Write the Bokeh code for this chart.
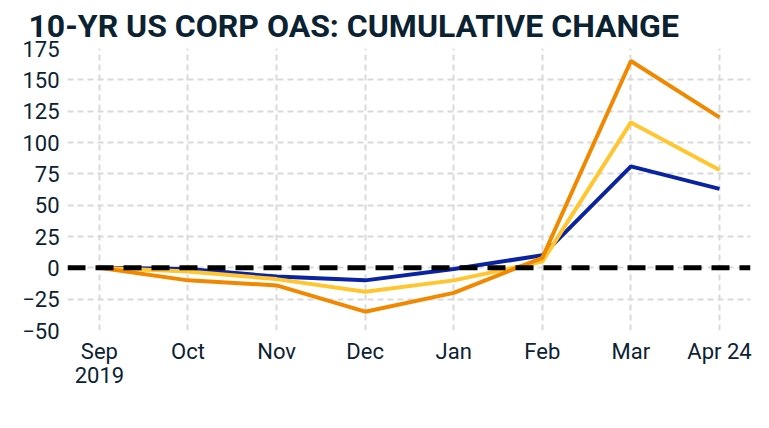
from bokeh.plotting import figure
from bokeh.models import Range1d, FixedTicker, Span, Legend, LegendItem, LinearAxis
from bokeh.embed import file_html
from bokeh.resources import INLINE

months = ["Sep", "Oct", "Nov", "Dec", "Jan", "Feb", "Mar", "Apr 24"]
years = {0: "2019"}
aa = [0, -1, -7, -10, -1, 10, 81, 63]
a_ = [0, -3, -9, -19, -10, 5, 116, 78]
bbb = [0, -10, -14, -35, -20, 8, 165, 120]
y_ticks = [-50, -25, 0, 25, 50, 75, 100, 125, 150, 175]

TEXT = "#0b2233"
FONT = "Roboto"

x = list(range(len(months)))

p = figure(frame_width=683, frame_height=282, output_backend="svg", toolbar_location=None,
           x_range=Range1d(-0.36, 7.35), y_range=Range1d(-50, 175),
           min_border_left=67, min_border_right=3, min_border_top=0, min_border_bottom=0)

p.title.text = "10-YR US CORP OAS: CUMULATIVE CHANGE"
p.title.text_font = FONT
p.title.text_font_size = "32px"
p.title.text_font_style = "bold"
p.title.text_color = TEXT
p.title.offset = -39
p.title.standoff = 8


def style_axis(ax):
    ax.axis_line_color = None
    ax.major_tick_line_color = None
    ax.minor_tick_line_color = None
    ax.major_tick_out = 0
    ax.major_tick_in = 0
    ax.minor_tick_out = 0
    ax.minor_tick_in = 0
    ax.axis_label_standoff = 0
    ax.major_label_text_font = FONT
    ax.major_label_text_font_size = "22px"
    ax.major_label_text_color = TEXT


p.outline_line_color = None
xax = p.xaxis[0]
yax = p.yaxis[0]
style_axis(xax)
style_axis(yax)

xax.ticker = FixedTicker(ticks=x)
xax.major_label_overrides = {i: m for i, m in enumerate(months)}
xax.major_label_standoff = 8
yax.ticker = FixedTicker(ticks=y_ticks)
yax.major_label_standoff = 8

yr_ax = LinearAxis(ticker=FixedTicker(ticks=list(years.keys())),
                   major_label_overrides=years)
style_axis(yr_ax)
yr_ax.major_label_standoff = 0
p.add_layout(yr_ax, "below")

for g in (p.xgrid, p.ygrid):
    g.grid_line_color = "#d9d9d9"
    g.grid_line_dash = "6 4"
    g.grid_line_width = 2

r_aa = p.line(x, aa, line_color="#0a23a0", line_width=4)
r_a = p.line(x, a_, line_color="#ffc62f", line_width=4)
r_bbb = p.line(x, bbb, line_color="#f08800", line_width=4)

p.add_layout(Span(location=0, dimension="width", line_color="black",
                  line_width=5, line_dash="18 10"))

legend = Legend(items=[LegendItem(label="AA", renderers=[r_aa]),
                       LegendItem(label="A", renderers=[r_a]),
                       LegendItem(label="BBB", renderers=[r_bbb])],
                orientation="horizontal", location="top_center",
                label_text_font=FONT, label_text_font_size="22px",
                label_text_color=TEXT, glyph_width=35, label_standoff=8,
                spacing=31, border_line_color=None, background_fill_alpha=0,
                margin=0, padding=5)
p.add_layout(legend, "below")

open("out.html", "w").write(file_html(p, INLINE))
